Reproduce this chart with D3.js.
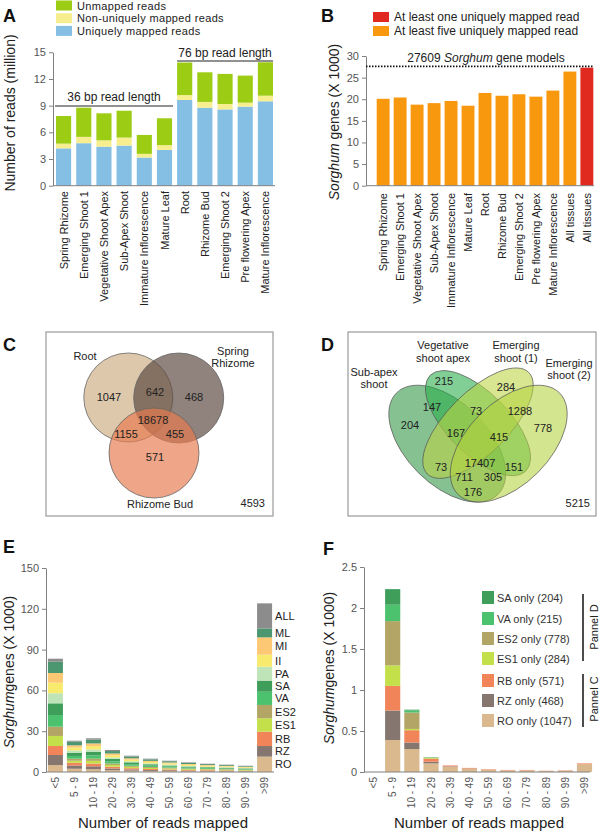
<!DOCTYPE html>
<html><head><meta charset="utf-8">
<script src="https://cdn.jsdelivr.net/npm/d3@7"></script>
<style>
body{margin:0;background:#fff}
svg{display:block;font-family:"Liberation Sans",Arial,Helvetica,sans-serif}
</style></head><body>
<svg id="c" width="600" height="832"></svg>
<script>
// ---------- DATA ----------
// Panel A
const tissuesA = ["Spring Rhizome","Emerging Shoot 1","Vegetative Shoot Apex","Sub-Apex Shoot","Immature Inflorescence","Mature Leaf","Root","Rhizome Bud","Emerging Shoot 2","Pre flowering Apex","Mature Inflorescence"];
const uniqueReads    = [4.2, 4.78, 4.39, 4.51, 3.17, 4.03, 9.64, 8.77, 8.58, 8.89, 9.49];
const nonUniqueReads = [0.53, 0.71, 0.71, 0.9, 0.41, 0.53, 0.55, 0.65, 0.61, 0.45, 0.63];
const unmappedReads  = [3.11, 3.28, 3.04, 3.02, 2.13, 3.02, 3.66, 3.33, 3.38, 3.04, 3.76];
const ticksA = [0,3,6,9,12,15];
const legendA = ["Unmapped reads","Non-uniquely mapped reads","Uniquely mapped reads"];

// Panel B
const tissuesB = ["Spring Rhizome","Emerging Shoot 1","Vegetative Shoot Apex","Sub-Apex Shoot","Immature Inflorescence","Mature Leaf","Root","Rhizome Bud","Emerging Shoot 2","Pre flowering Apex","Mature Inflorescence","All tissues","All tissues"];
const genesB = [20.1, 20.4, 18.75, 19.1, 19.6, 18.5, 21.45, 20.8, 21.15, 20.6, 22.0, 26.4, 27.3];
const kindB  = ["five","five","five","five","five","five","five","five","five","five","five","five","one"];
const geneModels = 27.609;
const ticksB = [0,5,10,15,20,25,30];
const legendB = ["At least one uniquely mapped read","At least five uniquely mapped read"];

// Panel C
const vennCSets = ["Root","Spring Rhizome","Rhizome Bud"];
const vennCCounts = [1047, 642, 468, 18678, 1155, 455, 571];
const vennCOutside = 4593;

// Panel D
const vennDSets = ["Sub-apex shoot","Vegetative shoot apex","Emerging shoot (1)","Emerging shoot (2)"];
const vennDCounts = [204, 215, 284, 778, 147, 73, 1288, 167, 415, 17407, 73, 151, 711, 305, 176];
const vennDOutside = 5215;

// Panel E
const bins = ["<5","5 - 9","10 - 19","20 - 29","30 - 39","40 - 49","50 - 59","60 - 69","70 - 79","80 - 89","90 - 99",">99"];
const keysE = ["RO","RZ","RB","ES1","ES2","VA","SA","PA","II","MI","ML","ALL"];
const E_RO  = [5.1, 2.4, 2.0, 1.3, 1.0, 0.8, 0.7, 0.5, 0.5, 0.4, 0.4, 11.3];
const E_RZ  = [7.4, 2.4, 2.2, 1.3, 0.9, 0.7, 0.6, 0.5, 0.4, 0.4, 0.3, 7.8];
const E_RB  = [6.6, 2.0, 2.0, 1.3, 0.9, 0.7, 0.6, 0.5, 0.5, 0.4, 0.3, 10.6];
const E_ES1 = [7.4, 1.5, 2.0, 1.3, 1.0, 0.8, 0.7, 0.6, 0.5, 0.5, 0.4, 9.8];
const E_ES2 = [6.8, 1.5, 1.6, 1.1, 0.8, 0.7, 0.6, 0.5, 0.4, 0.4, 0.3, 9.8];
const E_VA  = [8.6, 2.0, 2.4, 1.6, 1.2, 1.0, 0.8, 0.7, 0.6, 0.5, 0.4, 9.7];
const E_SA  = [8.6, 2.4, 2.6, 1.7, 1.3, 1.0, 0.8, 0.7, 0.6, 0.5, 0.5, 8.2];
const E_PA  = [7.4, 1.7, 1.8, 1.1, 0.8, 0.7, 0.6, 0.5, 0.4, 0.4, 0.3, 10.2];
const E_II  = [7.8, 2.0, 2.4, 1.6, 1.2, 1.0, 0.9, 0.8, 0.7, 0.6, 0.5, 8.9];
const E_MI  = [7.1, 1.7, 2.0, 1.3, 1.0, 0.8, 0.7, 0.6, 0.5, 0.4, 0.4, 12.7];
const E_ML  = [8.3, 2.7, 2.8, 1.8, 1.3, 1.1, 0.9, 0.8, 0.7, 0.6, 0.5, 6.6];
const E_ALL = [2.2, 0.7, 1.0, 0.8, 0.6, 0.5, 0.4, 0.4, 0.3, 0.3, 0.3, 18.4];
const ticksE = [0,30,60,90,120,150];

// Panel F
const keysF = ["RO","RZ","RB","ES1","ES2","VA","SA"];
const F_RO  = [0, 0.39, 0.28, 0.105, 0.065, 0.04, 0.03, 0.02, 0.02, 0.012, 0.015, 0.095];
const F_RZ  = [0, 0.36, 0.08, 0.02, 0.005, 0.003, 0, 0, 0, 0, 0, 0];
const F_RB  = [0, 0.30, 0.15, 0.035, 0.01, 0.007, 0.005, 0.005, 0.005, 0.003, 0.005, 0.01];
const F_ES1 = [0, 0.25, 0.015, 0.008, 0, 0, 0, 0, 0, 0, 0, 0];
const F_ES2 = [0, 0.54, 0.20, 0.008, 0, 0, 0, 0, 0, 0, 0, 0];
const F_VA  = [0, 0.20, 0.025, 0.005, 0, 0, 0, 0, 0, 0, 0, 0];
const F_SA  = [0, 0.19, 0.01, 0, 0, 0, 0, 0, 0, 0, 0, 0];
const ticksF = [0,0.5,1,1.5,2,2.5];
const legendF = ["SA only (204)","VA only (215)","ES2 only (778)","ES1 only (284)","RB only (571)","RZ only (468)","RO only (1047)"];
const legendFKeys = ["SA","VA","ES2","ES1","RB","RZ","RO"];

// ---------- STYLE ----------
const FONT = '"Liberation Sans", Arial, Helvetica, sans-serif';
const axisColor = "#808080", tickTextColor = "#555";
const colA = {u:"#85bfe4", n:"#f7ef8f", m:"#9dcc14"};
const colE = {RO:"#dbb98e",RZ:"#867670",RB:"#f2845a",ES1:"#c3df4a",ES2:"#b3a565",VA:"#4cc26e",SA:"#3e9e5a",PA:"#bfe4b8",II:"#f8ea6c",MI:"#fcc874",ML:"#4c9670",ALL:"#8c8c8c"};

const svg = d3.select("#c");

function yAxis(x, scale, ticks, fmt) {
  const ax = d3.axisLeft(scale).tickValues(ticks).tickSize(4).tickSizeOuter(0).tickPadding(3);
  if (fmt) ax.tickFormat(fmt);
  const g = svg.append("g").attr("transform", `translate(${x},0)`).call(ax);
  g.attr("font-family", FONT).attr("font-size", 11);
  g.select(".domain").attr("stroke", axisColor);
  g.selectAll(".tick line").attr("stroke", axisColor);
  g.selectAll(".tick text").attr("fill", tickTextColor);
  return g;
}
function hLine(x1, x2, y, color, w) {
  svg.append("line").attr("x1", x1).attr("x2", x2).attr("y1", y).attr("y2", y)
    .attr("stroke", color || axisColor).attr("stroke-width", w || 1);
}
function text(x, y, s, opt) {
  opt = opt || {};
  return svg.append("text").attr("x", x).attr("y", y).text(s)
    .attr("font-size", opt.size || 11).attr("fill", opt.fill || "#222")
    .attr("text-anchor", opt.anchor || "start")
    .attr("font-weight", opt.weight || "normal");
}
function rotLabel(x, y, parts, size, anchor) {
  const t = svg.append("text").attr("transform", `translate(${x},${y}) rotate(-90)`)
    .attr("text-anchor", anchor || "middle").attr("font-size", size).attr("fill", "#222");
  parts.forEach(p => t.append("tspan").text(p[0]).attr("font-style", p[1] ? "italic" : "normal"));
  return t;
}
function panelLetter(x, y, s) { text(x, y, s, {size: 18, weight: "bold", fill: "#111"}); }

// ---------- PANEL A ----------
panelLetter(3, 22, "A");
const xA = d3.scaleBand().domain(tissuesA).range([54, 275]).paddingInner(0.25).paddingOuter(0.1);
const yA = d3.scaleLinear().domain([0, 15]).range([185.7, 52.3]);
const rowsA = tissuesA.map((t, i) => ({t, u: uniqueReads[i], n: nonUniqueReads[i], m: unmappedReads[i]}));
const stA = d3.stack().keys(["u","n","m"])(rowsA);
stA.forEach(layer => {
  svg.append("g").selectAll("rect").data(layer).join("rect")
    .attr("x", d => xA(d.data.t)).attr("width", xA.bandwidth())
    .attr("y", d => yA(d[1])).attr("height", d => yA(d[0]) - yA(d[1]))
    .attr("fill", colA[layer.key]);
});
hLine(53, 275, 185.7);
yAxis(53, yA, ticksA);
tissuesA.forEach(t => {
  svg.append("text").attr("transform", `translate(${xA(t) + xA.bandwidth()/2 + 4},191) rotate(-90)`)
    .attr("text-anchor", "end").attr("font-size", 11).attr("fill", "#222").text(t);
});
rotLabel(15, 113, [["Number of reads (million)", false]], 14);
// group lines
hLine(xA(tissuesA[0]) - 1, xA(tissuesA[5]) + xA.bandwidth() + 1, 106, "#222", 1);
text((xA(tissuesA[0]) + xA(tissuesA[5]) + xA.bandwidth())/2, 101, "36 bp read length", {size: 12, anchor: "middle"});
hLine(xA(tissuesA[6]), xA(tissuesA[10]) + xA.bandwidth(), 61, "#222", 1);
text((xA(tissuesA[6]) + xA(tissuesA[10]) + xA.bandwidth())/2, 57, "76 bp read length", {size: 12, anchor: "middle"});
// legend A
[["m",0.5],["n",13.2],["u",25.9]].forEach((k, i) => {
  svg.append("rect").attr("x", 56).attr("y", k[1]).attr("width", 16).attr("height", 10).attr("fill", colA[k[0]]);
  text(77, k[1] + 9, legendA[i], {size: 11}).attr("letter-spacing", 0.35);
});

// ---------- PANEL B ----------
panelLetter(321, 22, "B");
const idxB = tissuesB.map((t, i) => i);
const xB = d3.scaleBand().domain(idxB).range([375, 595]).paddingInner(0.24).paddingOuter(0.1);
const yB = d3.scaleLinear().domain([0, 30]).range([185.7, 56]);
svg.append("g").selectAll("rect").data(idxB).join("rect")
  .attr("x", i => xB(i)).attr("width", xB.bandwidth())
  .attr("y", i => yB(genesB[i])).attr("height", i => yB(0) - yB(genesB[i]))
  .attr("fill", i => kindB[i] === "one" ? "#e02a1f" : "#f7980f");
hLine(366, 594, 185.7);
yAxis(366, yB, ticksB);
idxB.forEach(i => {
  svg.append("text").attr("transform", `translate(${xB(i) + xB.bandwidth()/2 + 4},193) rotate(-90)`)
    .attr("text-anchor", "end").attr("font-size", 11).attr("fill", "#222").text(tissuesB[i]);
});
svg.append("line").attr("x1", 366).attr("x2", 594).attr("y1", yB(geneModels)).attr("y2", yB(geneModels))
  .attr("stroke", "#111").attr("stroke-width", 1.6).attr("stroke-dasharray", "1.5,1.5");
{
  const t = svg.append("text").attr("x", 486).attr("y", 62).attr("text-anchor", "middle").attr("font-size", 12).attr("fill", "#222");
  t.append("tspan").text("27609 ");
  t.append("tspan").text("Sorghum").attr("font-style", "italic");
  t.append("tspan").text(" gene models");
}
rotLabel(339, 122, [["Sorghum", true], [" genes (X 1000)", false]], 14);
[["#e02a1f",12],["#f7980f",26]].forEach((k, i) => {
  svg.append("rect").attr("x", 373).attr("y", k[1]).attr("width", 16).attr("height", 10).attr("fill", k[0]);
  text(394, k[1] + 9, legendB[i], {size: 12});
});

// ---------- PANEL C ----------
panelLetter(3, 351, "C");
svg.append("rect").attr("x", 46).attr("y", 332).attr("width", 227).attr("height", 184)
  .attr("fill", "none").attr("stroke", "#9a9a9a").attr("stroke-width", 1.2);
const circlesC = [
  {cx: 128.3, cy: 397.5, r: 44.5, fill: "#cdae84"},
  {cx: 178.7, cy: 398, r: 45, fill: "#5b4840"},
  {cx: 154, cy: 453, r: 45, fill: "#e77a4e"}
];
circlesC.forEach(c => svg.append("circle").attr("cx", c.cx).attr("cy", c.cy).attr("r", c.r)
  .attr("fill", c.fill).attr("fill-opacity", 0.68).attr("stroke", "#666").attr("stroke-width", 0.8));
const posC = [[109,397],[155,392],[194,397],[153,420],[126,434],[175,434],[155,457]];
vennCCounts.forEach((v, i) => text(posC[i][0], posC[i][1] + 4, v, {anchor: "middle", size: 11}));
text(85, 360, vennCSets[0], {anchor: "middle"});
text(233, 355, "Spring", {anchor: "middle"});
text(233, 367, "Rhizome", {anchor: "middle"});
text(160, 508, vennCSets[2], {anchor: "middle"});
text(265, 507, vennCOutside, {anchor: "end"});

// ---------- PANEL D ----------
panelLetter(321, 351, "D");
svg.append("rect").attr("x", 348).attr("y", 332).attr("width", 248).attr("height", 184)
  .attr("fill", "none").attr("stroke", "#9a9a9a").attr("stroke-width", 1.2);
const sD = 205, cxD = 478, y0D = 540;
const ellD = [
  {x: 0.35, y: 0.47, a: 0.35, b: 0.20, rot: 45, fill: "#2e9443"},
  {x: 0.50, y: 0.57, a: 0.33, b: 0.15, rot: 45, fill: "#27ad48"},
  {x: 0.50, y: 0.57, a: 0.35, b: 0.15, rot: -45, fill: "#bcd443"},
  {x: 0.65, y: 0.47, a: 0.35, b: 0.20, rot: -45, fill: "#b5d240"}
];
ellD.forEach(e => {
  const px = cxD + (e.x - 0.5) * sD, py = y0D - e.y * sD;
  svg.append("ellipse").attr("transform", `translate(${px},${py}) rotate(${e.rot})`)
    .attr("rx", e.a * sD).attr("ry", e.b * sD).attr("fill", e.fill).attr("fill-opacity", 0.58)
    .attr("stroke", "#555").attr("stroke-width", 0.7);
});
const posD = [[410,425],[444,381],[506,387],[543,428],[432,407],[476,411],[520,411],[456,433],[499,437],[480,463],[441,467],[514,467],[464,477],[493,477],[473,492]];
vennDCounts.forEach((v, i) => text(posD[i][0], posD[i][1] + 4, v, {anchor: "middle", size: 11}));
text(374, 376, "Sub-apex", {anchor: "middle"});
text(374, 388, "shoot", {anchor: "middle"});
text(443, 349, "Vegetative", {anchor: "middle"});
text(443, 362, "shoot apex", {anchor: "middle"});
text(516, 349, "Emerging", {anchor: "middle"});
text(516, 362, "shoot (1)", {anchor: "middle"});
text(569, 367, "Emerging", {anchor: "middle"});
text(569, 379, "shoot (2)", {anchor: "middle"});
text(590, 507, vennDOutside, {anchor: "end"});

// ---------- PANEL E ----------
panelLetter(3, 553, "E");
const xE = d3.scaleBand().domain(bins).range([46, 274]).paddingInner(0.21).paddingOuter(0.1);
const yE = d3.scaleLinear().domain([0, 150]).range([772, 568]);
const seriesE = {RO:E_RO,RZ:E_RZ,RB:E_RB,ES1:E_ES1,ES2:E_ES2,VA:E_VA,SA:E_SA,PA:E_PA,II:E_II,MI:E_MI,ML:E_ML,ALL:E_ALL};
const rowsE = bins.map((b, i) => { const o = {b}; keysE.forEach(k => o[k] = seriesE[k][i]); return o; });
const stE = d3.stack().keys(keysE)(rowsE);
stE.forEach(layer => {
  svg.append("g").selectAll("rect").data(layer).join("rect")
    .attr("x", d => xE(d.data.b)).attr("width", xE.bandwidth())
    .attr("y", d => yE(d[1])).attr("height", d => Math.max(0, yE(d[0]) - yE(d[1])))
    .attr("fill", colE[layer.key]);
  const last = layer[layer.length - 1];
  text(xE(bins[bins.length-1]) + xE.bandwidth() + 3, (yE(last[0]) + yE(last[1]))/2 + 4, layer.key, {size: 11});
});
hLine(46, 274, 772);
yAxis(46, yE, ticksE);
bins.forEach(b => {
  svg.append("text").attr("transform", `translate(${xE(b) + xE.bandwidth()/2 + 3.5},777) rotate(-90)`)
    .attr("text-anchor", "end").attr("font-size", 10).attr("fill", tickTextColor).text(b);
});
rotLabel(14, 672, [["Sorghum", true], ["genes (X 1000)", false]], 14);
text(163, 828, "Number of reads mapped", {size: 15, anchor: "middle"});

// ---------- PANEL F ----------
panelLetter(323, 555, "F");
const xF = d3.scaleBand().domain(bins).range([364, 594]).paddingInner(0.21).paddingOuter(0.1);
const yF = d3.scaleLinear().domain([0, 2.5]).range([772, 567]);
const seriesF = {RO:F_RO,RZ:F_RZ,RB:F_RB,ES1:F_ES1,ES2:F_ES2,VA:F_VA,SA:F_SA};
const rowsF = bins.map((b, i) => { const o = {b}; keysF.forEach(k => o[k] = seriesF[k][i]); return o; });
const stF = d3.stack().keys(keysF)(rowsF);
stF.forEach(layer => {
  svg.append("g").selectAll("rect").data(layer).join("rect")
    .attr("x", d => xF(d.data.b)).attr("width", xF.bandwidth())
    .attr("y", d => yF(d[1])).attr("height", d => Math.max(0, yF(d[0]) - yF(d[1])))
    .attr("fill", colE[layer.key]);
});
hLine(364, 590, 772);
yAxis(364, yF, ticksF, d => String(d));
bins.forEach(b => {
  svg.append("text").attr("transform", `translate(${xF(b) + xF.bandwidth()/2 + 3.5},777) rotate(-90)`)
    .attr("text-anchor", "end").attr("font-size", 10).attr("fill", tickTextColor).text(b);
});
rotLabel(334, 668, [["Sorghum", true], ["genes (X 1000)", false]], 14);
text(479, 828, "Number of reads mapped", {size: 15, anchor: "middle"});
const legYF = [591, 612, 632, 652, 674, 694, 714];
legendF.forEach((s, i) => {
  svg.append("rect").attr("x", 482).attr("y", legYF[i]).attr("width", 12).attr("height", 13).attr("fill", colE[legendFKeys[i]]);
  text(497, legYF[i] + 11, s, {size: 11, fill: "#333"});
});
svg.append("line").attr("x1", 583).attr("x2", 583).attr("y1", 594).attr("y2", 661).attr("stroke", "#111").attr("stroke-width", 1.5);
svg.append("line").attr("x1", 583).attr("x2", 583).attr("y1", 674).attr("y2", 727).attr("stroke", "#111").attr("stroke-width", 1.5);
rotLabel(598, 627, [["Pannel D", false]], 11);
rotLabel(598, 699, [["Pannel C", false]], 11);
</script>
</body></html>
